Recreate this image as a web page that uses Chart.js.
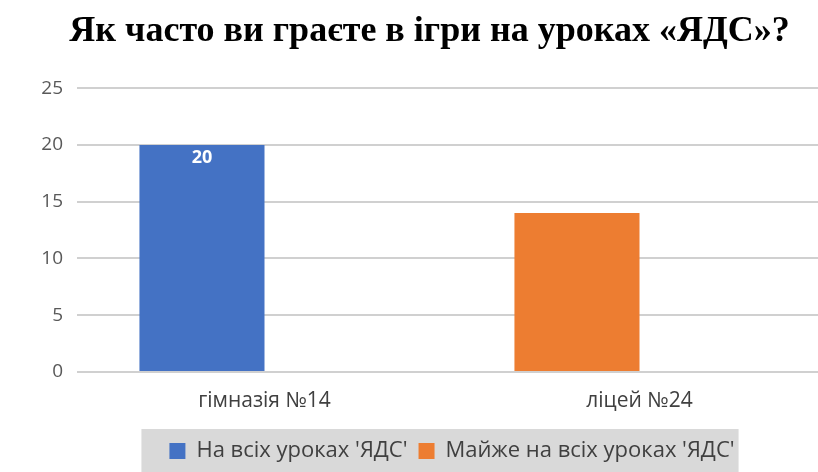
<!DOCTYPE html>
<html>
<head>
<meta charset="utf-8">
<script src="https://cdn.jsdelivr.net/npm/chart.js@4"></script>
<style>
  html, body { margin: 0; padding: 0; background: #ffffff; overflow: hidden; }
  #wrap { width: 818px; height: 472px; overflow: hidden; }
  #c { display: block; }
</style>
</head>
<body>
<div id="wrap"><canvas id="c" width="827" height="472"></canvas></div>
<script>
const titleText = 'Як часто ви граєте в ігри на уроках «ЯДС»?';
const categories = ['гімназія №14', 'ліцей №24'];
const seriesNames = ["На всіх уроках 'ЯДС'", "Майже на всіх уроках 'ЯДС'"];
const allLessons = [20, null];
const almostAllLessons = [null, 14];
const emptySlot = [null, null];
const yMin = 0, yMax = 25, yStep = 5;

const legendBg = {
  id: 'legendBg',
  beforeDraw(chart) {
    const lg = chart.legend;
    if (!lg || !lg.legendHitBoxes || !lg.legendHitBoxes.length) return;
    const boxes = lg.legendHitBoxes;
    const l = Math.min(...boxes.map(b => b.left)) - 28;
    const r = Math.max(...boxes.map(b => b.left + b.width)) + 4;
    const t = lg.top;
    const ctx = chart.ctx;
    ctx.save();
    ctx.fillStyle = '#d9d9d9';
    ctx.fillRect(l, t, r - l, chart.height - t);
    ctx.restore();
  }
};

const valueLabels = {
  id: 'valueLabels',
  afterDatasetsDraw(chart) {
    const ctx = chart.ctx;
    const meta = chart.getDatasetMeta(0);
    ctx.save();
    ctx.fillStyle = '#ffffff';
    ctx.font = 'bold 18px "Open Sans", sans-serif';
    ctx.textAlign = 'center';
    ctx.textBaseline = 'middle';
    meta.data.forEach((bar, i) => {
      const v = allLessons[i];
      if (v === null) return;
      ctx.fillText(String(v), bar.x, bar.y + 13);
    });
    ctx.restore();
  }
};

new Chart(document.getElementById('c'), {
  type: 'bar',
  data: {
    labels: categories,
    datasets: [
      { label: seriesNames[0], data: allLessons, backgroundColor: '#4472c4', stack: 'main' },
      { label: seriesNames[1], data: almostAllLessons, backgroundColor: '#ed7d31', stack: 'main' },
      { label: '', data: emptySlot, backgroundColor: 'rgba(0,0,0,0)', stack: 'empty' }
    ]
  },
  options: {
    responsive: false,
    animation: false,
    devicePixelRatio: 1,
    layout: { padding: { left: 32, right: 0, top: 4, bottom: 0 } },
    categoryPercentage: 0.667,
    barPercentage: 1.0,
    scales: {
      x: {
        grid: { display: false, drawTicks: false },
        border: { display: false },
        ticks: { color: '#404040', font: { family: '"Open Sans", sans-serif', size: 21 }, padding: 16 },
        afterFit(scale) { scale.height = 57; }
      },
      y: {
        min: yMin, max: yMax,
        grid: { color: '#d0d0d0', lineWidth: 2, drawTicks: false },
        border: { display: false },
        ticks: { stepSize: yStep, color: '#595959', font: { family: '"Open Sans", sans-serif', size: 19 }, padding: 14 },
        afterFit(scale) { scale.width = 45; }
      }
    },
    plugins: {
      title: {
        display: true,
        text: titleText,
        color: '#000000',
        font: { family: '"Liberation Serif", serif', size: 36, weight: 'bold' },
        padding: { top: 6, bottom: 35 }
      },
      legend: {
        position: 'bottom',
        fullSize: false,
        labels: {
          filter: (item) => item.text !== '',
          color: '#404040',
          font: { family: '"Open Sans", sans-serif', size: 22 },
          boxWidth: 16, boxHeight: 16,
          padding: 11
        }
      },
      tooltip: { enabled: false }
    }
  },
  plugins: [legendBg, valueLabels]
});
</script>
</body>
</html>
